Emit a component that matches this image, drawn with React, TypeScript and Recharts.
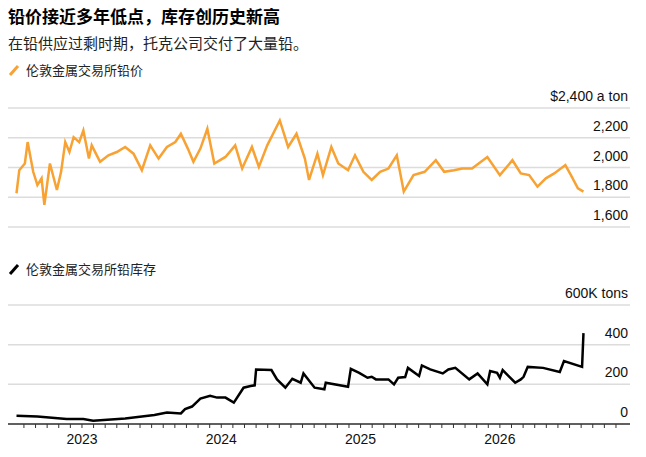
import { LineChart, Line, XAxis, YAxis, CartesianGrid } from "recharts";

const priceDates = [2022.53, 2022.55, 2022.59, 2022.61, 2022.65, 2022.68, 2022.71, 2022.73, 2022.77, 2022.82, 2022.85, 2022.88, 2022.91, 2022.94, 2022.98, 2023.01, 2023.05, 2023.07, 2023.13, 2023.19, 2023.25, 2023.31, 2023.37, 2023.43, 2023.49, 2023.55, 2023.61, 2023.67, 2023.71, 2023.76, 2023.8, 2023.85, 2023.9, 2023.95, 2024.03, 2024.1, 2024.15, 2024.22, 2024.27, 2024.33, 2024.42, 2024.48, 2024.54, 2024.6, 2024.63, 2024.69, 2024.73, 2024.79, 2024.84, 2024.91, 2024.96, 2025.02, 2025.08, 2025.14, 2025.2, 2025.26, 2025.31, 2025.38, 2025.46, 2025.54, 2025.6, 2025.67, 2025.73, 2025.8, 2025.91, 2026.0, 2026.09, 2026.15, 2026.21, 2026.27, 2026.33, 2026.39, 2026.47, 2026.51, 2026.56, 2026.6];
const priceValues = [1827, 1982, 2027, 2171, 1971, 1882, 1927, 1749, 2027, 1849, 1971, 2171, 2104, 2204, 2171, 2249, 2060, 2149, 2038, 2082, 2104, 2138, 2093, 1982, 2149, 2060, 2138, 2171, 2227, 2127, 2038, 2127, 2260, 2027, 2071, 2149, 1993, 2138, 2004, 2149, 2316, 2138, 2227, 2060, 1916, 2093, 1949, 2138, 2027, 1982, 2082, 1971, 1916, 1971, 1993, 2082, 1838, 1949, 1971, 2049, 1971, 1982, 1993, 1993, 2071, 1949, 2049, 1960, 1949, 1871, 1927, 1960, 2016, 1949, 1860, 1838];

const stockDates = [2022.53, 2022.68, 2022.89, 2023.01, 2023.08, 2023.31, 2023.52, 2023.61, 2023.71, 2023.74, 2023.79, 2023.85, 2023.92, 2023.97, 2024.03, 2024.09, 2024.16, 2024.21, 2024.24, 2024.25, 2024.36, 2024.4, 2024.46, 2024.51, 2024.57, 2024.59, 2024.67, 2024.74, 2024.75, 2024.91, 2024.93, 2024.99, 2025.05, 2025.08, 2025.11, 2025.2, 2025.24, 2025.27, 2025.32, 2025.34, 2025.42, 2025.44, 2025.5, 2025.59, 2025.63, 2025.68, 2025.78, 2025.84, 2025.91, 2025.93, 2025.98, 2026.0, 2026.02, 2026.11, 2026.15, 2026.17, 2026.2, 2026.31, 2026.43, 2026.46, 2026.59, 2026.6];
const stockValues = [42, 38, 25, 25, 17, 28, 45, 58, 53, 75, 88, 128, 142, 133, 133, 108, 183, 192, 195, 275, 272, 225, 183, 228, 208, 255, 183, 175, 208, 188, 278, 258, 233, 238, 225, 225, 200, 233, 237, 283, 242, 295, 275, 255, 275, 283, 225, 255, 200, 267, 258, 233, 272, 208, 225, 238, 288, 283, 262, 317, 288, 458];

const priceTicks = [1600, 1800, 2000, 2200, 2400];
const stockTicks = [0, 200, 400, 600];
const yearLabels = [2023, 2024, 2025, 2026];
const monthTicks: number[] = [];
for (let y = 2022; y <= 2026; y++) for (let m = 0; m < 12; m++) {
  const v = +(y + m / 12).toFixed(4);
  if (v > 2022.5 && v < 2026.9) monthTicks.push(v);
}

const priceData = priceDates.map((d, i) => ({ d, v: priceValues[i] }));
const stockData = stockDates.map((d, i) => ({ d, v: stockValues[i] }));

const X_DOMAIN = [2022.469, 2026.934];
const FONT = "'Liberation Sans', Arial, sans-serif";
const ORANGE = "#F7A233";

const makeTick = (top: number, topLabel: string) => (props: any) => {
  const { y, payload } = props;
  const label = payload.value === top ? topLabel : payload.value.toLocaleString("en-US");
  return (
    <text x={628} y={y - 7} textAnchor="end" fontSize={14} fill="#111" fontFamily={FONT}>
      {label}
    </text>
  );
};

const XTick = (props: any) => {
  const { x, y, payload } = props;
  const isYear = yearLabels.some((yr) => Math.abs(yr - payload.value) < 0.001);
  return (
    <g>
      <line x1={x} x2={x} y1={y - 8} y2={y - 4} stroke="#333" strokeWidth={1} />
      {isYear && (
        <text x={x} y={y + 12} textAnchor="middle" fontSize={14} fill="#111" fontFamily={FONT}>
          {payload.value.toFixed(0)}
        </text>
      )}
    </g>
  );
};

const Legend = ({ color, text, top }: { color: string; text: string; top: number }) => (
  <div style={{ position: "absolute", left: 8, top, display: "flex", alignItems: "center", fontSize: 13, color: "#222" }}>
    <svg width={12} height={12} style={{ marginRight: 6 }}>
      <line x1={2} y1={11} x2={10} y2={2} stroke={color} strokeWidth={3} />
    </svg>
    {text}
  </div>
);

export default function App() {
  return (
    <div style={{ position: "relative", width: 646, height: 457, margin: -8, background: "#fff", fontFamily: "'Noto Sans CJK SC', sans-serif", overflow: "hidden" }}>
      <div style={{ position: "absolute", left: 8, top: 3, fontSize: 17, fontWeight: 700, color: "#000" }}>
        铅价接近多年低点，库存创历史新高
      </div>
      <div style={{ position: "absolute", left: 8, top: 32, fontSize: 15, color: "#222" }}>
        在铅供应过剩时期，托克公司交付了大量铅。
      </div>
      <Legend color={ORANGE} text="伦敦金属交易所铅价" top={60} />
      <div style={{ position: "absolute", left: 0, top: 82 }}>
        <LineChart width={646} height={153} data={priceData} margin={{ top: 26, right: 15, bottom: 8, left: 8 }}>
          <CartesianGrid vertical={false} stroke="#dcdcdc" strokeWidth={1.5} />
          <XAxis dataKey="d" type="number" domain={X_DOMAIN} hide allowDataOverflow />
          <YAxis orientation="right" domain={[1600, 2400]} ticks={priceTicks} interval={0} width={1} axisLine={false} tickLine={false} tick={makeTick(2400, "$2,400 a ton")} />
          <Line dataKey="v" stroke={ORANGE} strokeWidth={2.5} dot={false} isAnimationActive={false} />
        </LineChart>
      </div>
      <Legend color="#000" text="伦敦金属交易所铅库存" top={259} />
      <div style={{ position: "absolute", left: 0, top: 280 }}>
        <LineChart width={646} height={177} data={stockData} margin={{ top: 25, right: 15, bottom: 0, left: 8 }}>
          <CartesianGrid vertical={false} stroke="#dcdcdc" strokeWidth={1.5} />
          <XAxis dataKey="d" type="number" domain={X_DOMAIN} ticks={monthTicks} interval={0} height={33} axisLine={{ stroke: "#333", strokeWidth: 1.5 }} tickLine={false} tick={<XTick />} allowDataOverflow />
          <YAxis orientation="right" domain={[0, 600]} ticks={stockTicks} interval={0} width={1} axisLine={false} tickLine={false} tick={makeTick(600, "600K tons")} />
          <Line dataKey="v" stroke="#000" strokeWidth={2.5} dot={false} isAnimationActive={false} />
        </LineChart>
      </div>
    </div>
  );
}
